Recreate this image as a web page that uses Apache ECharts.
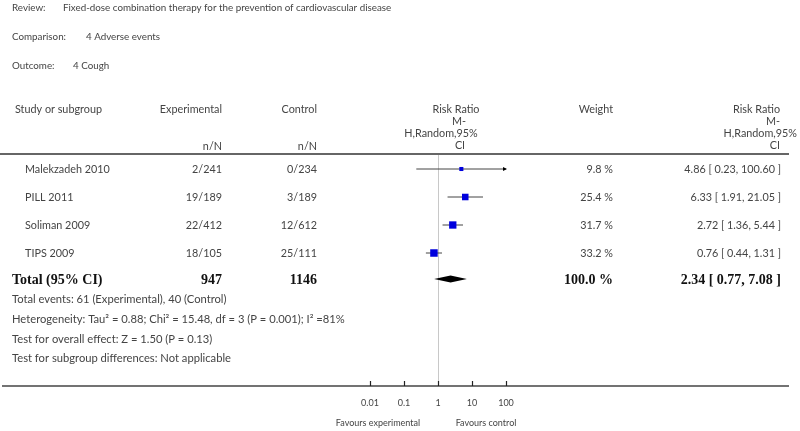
<!DOCTYPE html>
<html><head><meta charset="utf-8">
<script src="https://cdn.jsdelivr.net/npm/echarts@6/dist/echarts.min.js"></script>
<style>html,body{margin:0;padding:0;background:#fff}#c{width:800px;height:431px}</style>
</head><body><div id="c"></div>
<script>
// ---- data ----
const studies = ['Malekzadeh 2010', 'PILL 2011', 'Soliman 2009', 'TIPS 2009'];
const expEvents = ['2/241', '19/189', '22/412', '18/105'];
const ctrlEvents = ['0/234', '3/189', '12/612', '25/111'];
const riskRatio = [4.86, 6.33, 2.72, 0.76];
const ciLow = [0.23, 1.91, 1.36, 0.44];
const ciHigh = [100.60, 21.05, 5.44, 1.31];
const weights = [9.8, 25.4, 31.7, 33.2];
const totalEffect = [2.34, 0.77, 7.08];   // RR, low, high
const totalN = [947, 1146];
const totalWeight = 100.0;
const xTicks = [0.01, 0.1, 1, 10, 100];
const rowPos = [0.5, 1.5, 2.5, 3.5];
const totalPos = 4.43;
const footnotes = [
  'Total events: 61 (Experimental), 40 (Control)',
  'Heterogeneity: Tau\u00b2 = 0.88; Chi\u00b2 = 15.48, df = 3 (P = 0.001); I\u00b2 =81%',
  'Test for overall effect: Z = 1.50 (P = 0.13)',
  'Test for subgroup differences: Not applicable'
];
const titleLines = [['Review:', 'Fixed-dose combination therapy for the prevention of cardiovascular disease'],
                    ['Comparison:', '4 Adverse events'],
                    ['Outcome:', '4 Cough']];

const FONT = 'Lato';
const TXT = '#444';
const chart = echarts.init(document.getElementById('c'), null, {renderer: 'canvas'});
const AXMAX = 100, AXMIN = 0.01;
const GRID_TOP = 155, GRID_BOTTOM = 45, H = 431;

const studyData = studies.map((s, i) => [riskRatio[i], rowPos[i], ciLow[i], ciHigh[i], weights[i]]);

chart.setOption({
  animation: false,
  grid: {left: 370, right: 294, top: GRID_TOP, bottom: GRID_BOTTOM},
  xAxis: {
    type: 'log', logBase: 10, min: AXMIN, max: AXMAX, position: 'bottom', z: 10,
    axisLine: {show: false, onZero: false},
    axisTick: {show: true, inside: true, length: 5, lineStyle: {color: '#222', width: 1.2}},
    axisLabel: {show: true, margin: 13, fontFamily: FONT, fontSize: 9, color: TXT,
      formatter: v => { const t = xTicks.find(x => Math.abs(Math.log10(x) - Math.log10(v)) < 1e-6); return t === undefined ? '' : String(t); }},
    splitLine: {show: false}
  },
  yAxis: {type: 'value', inverse: true, min: 0, max: 8.25, show: false},
  series: [
    {
      type: 'custom', name: 'studies', clip: false,
      data: studyData,
      renderItem: function (params, api) {
        const rr = api.value(0), y = api.value(1), lo = api.value(2), hi = api.value(3), w = api.value(4);
        const pLo = api.coord([Math.max(lo, AXMIN), y]);
        const pHi = api.coord([Math.min(hi, AXMAX), y]);
        const pC = api.coord([rr, y]);
        const s = Math.sqrt(w) * 1.3;
        const children = [
          {type: 'line', shape: {x1: pLo[0], y1: pLo[1], x2: pHi[0], y2: pHi[1]}, style: {stroke: '#444', lineWidth: 1}},
          {type: 'rect', shape: {x: pC[0] - s / 2, y: pC[1] - s / 2, width: s, height: s}, style: {fill: '#0000dd'}}
        ];
        if (hi > AXMAX) children.push({type: 'polygon', shape: {points: [[pHi[0] + 1, pHi[1]], [pHi[0] - 3, pHi[1] - 2], [pHi[0] - 3, pHi[1] + 2]]}, style: {fill: '#000'}});
        if (lo < AXMIN) children.push({type: 'polygon', shape: {points: [[pLo[0] - 1, pLo[1]], [pLo[0] + 3, pLo[1] - 2], [pLo[0] + 3, pLo[1] + 2]]}, style: {fill: '#000'}});
        return {type: 'group', children};
      },
      z: 5
    },
    {
      type: 'custom', name: 'total', clip: false,
      data: [[totalEffect[0], totalPos, totalEffect[1], totalEffect[2]]],
      renderItem: function (params, api) {
        const y = api.value(1);
        const c = api.coord([api.value(0), y]);
        const l = api.coord([api.value(2), y]);
        const h = api.coord([api.value(3), y]);
        return {type: 'polygon', shape: {points: [[l[0], c[1]], [c[0], c[1] - 3.5], [h[0], c[1]], [c[0], c[1] + 3.5]]}, style: {fill: '#000'}};
      },
      z: 5
    },
    {
      type: 'line', data: [], markLine: {
        silent: true, symbol: 'none', label: {show: false},
        lineStyle: {color: '#c8c8c8', width: 1, type: 'solid'},
        data: [{xAxis: 1}]
      }
    }
  ]
});

// ---- text table via graphic, rows aligned through the chart's own y scale ----
const yOf = v => chart.convertToPixel({gridIndex: 0}, [1, v])[1];
const g = [];
function txt(x, y, s, opt) {
  opt = opt || {};
  g.push({type: 'text', x: x, y: y, silent: true, style: Object.assign({
    text: s, fontFamily: FONT, fontSize: 10.8, fill: TXT, align: 'left', verticalAlign: 'middle'}, opt)});
}
const titleY = [8, 37, 66];
const titleX2 = [63, 86, 73];
titleLines.forEach((t, i) => { txt(12, titleY[i], t[0], {fontSize: 9.8}); txt(titleX2[i], titleY[i], t[1], {fontSize: 9.8}); });

// headers
txt(15, 110, 'Study or subgroup');
txt(222, 110, 'Experimental', {align: 'right'});
txt(222, 147, 'n/N', {align: 'right'});
txt(317, 110, 'Control', {align: 'right'});
txt(317, 147, 'n/N', {align: 'right'});
txt(456, 110, 'Risk Ratio', {align: 'center'});
txt(459, 122, 'M-', {align: 'center'});
txt(441, 134, 'H,Random,95%', {align: 'center'});
txt(460, 146, 'CI', {align: 'center'});
txt(613, 110, 'Weight', {align: 'right'});
txt(780, 110, 'Risk Ratio', {align: 'right'});
txt(780, 122, 'M-', {align: 'right'});
txt(797, 134, 'H,Random,95%', {align: 'right'});
txt(780, 146, 'CI', {align: 'right'});

studies.forEach((s, i) => {
  const y = yOf(rowPos[i]) + 1;
  txt(25, y, s);
  txt(222, y, expEvents[i], {align: 'right'});
  txt(317, y, ctrlEvents[i], {align: 'right'});
  txt(613, y, weights[i].toFixed(1) + ' %', {align: 'right'});
  txt(781, y, riskRatio[i].toFixed(2) + ' [ ' + ciLow[i].toFixed(2) + ', ' + ciHigh[i].toFixed(2) + ' ]', {align: 'right'});
});
const ty = yOf(totalPos) + 1;
const bold = {fontFamily: 'Liberation Serif', fontWeight: 'bold', fontSize: 14, fill: '#111'};
txt(12, ty, 'Total (95% CI)', bold);
txt(222, ty, String(totalN[0]), Object.assign({align: 'right'}, bold));
txt(317, ty, String(totalN[1]), Object.assign({align: 'right'}, bold));
txt(613, ty, totalWeight.toFixed(1) + ' %', Object.assign({align: 'right'}, bold));
txt(781, ty, totalEffect[0].toFixed(2) + ' [ ' + totalEffect[1].toFixed(2) + ', ' + totalEffect[2].toFixed(2) + ' ]', Object.assign({align: 'right'}, bold));

const fy = [299, 319, 339, 358];
footnotes.forEach((f, i) => txt(12, fy[i], f, {fontSize: 11.2}));

txt(378, 423, 'Favours experimental', {align: 'center', fontSize: 9});
txt(486, 423, 'Favours control', {align: 'center', fontSize: 9});

// rules
const axisY = H - GRID_BOTTOM;
g.push({type: 'line', silent: true, z: -1, shape: {x1: 0, y1: 154, x2: 789, y2: 154}, style: {stroke: '#333', lineWidth: 1.5}});
g.push({type: 'line', silent: true, z: -1, shape: {x1: 2, y1: axisY, x2: 789, y2: axisY}, style: {stroke: '#444', lineWidth: 1.5}});

chart.setOption({graphic: g});
</script>
</body></html>
